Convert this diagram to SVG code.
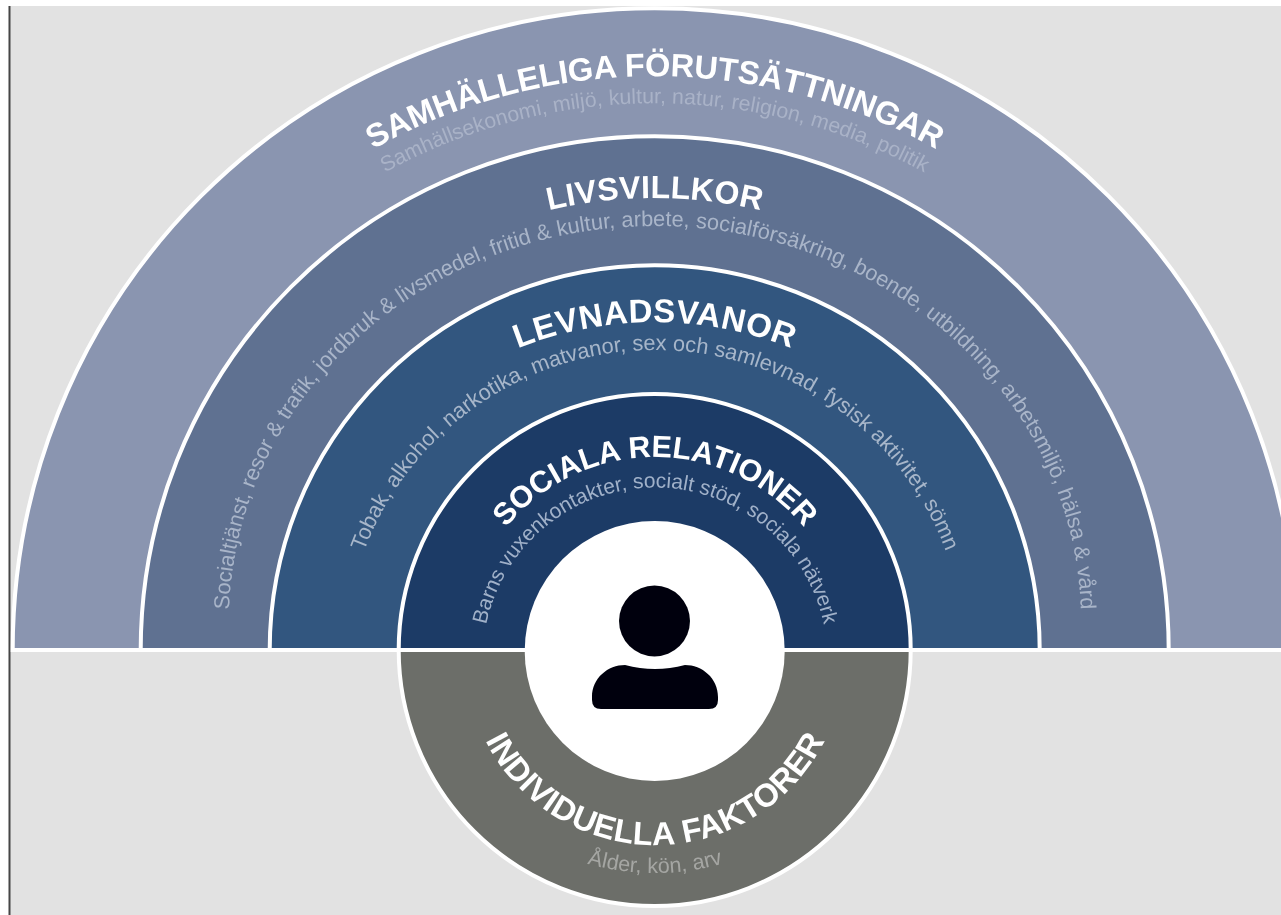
<svg xmlns="http://www.w3.org/2000/svg" width="1281" height="915" viewBox="0 0 1281 915">
<style>
text{font-family:"Liberation Sans",Arial,sans-serif}
.t{fill:#fff;font-weight:bold;text-anchor:middle}
.s{text-anchor:middle}
.r{stroke:#fff;stroke-width:4}
</style>
<defs>
<filter id="soft" filterUnits="userSpaceOnUse" x="0" y="0" width="1281" height="915"><feGaussianBlur stdDeviation="0.6"/></filter>
<path id="p1" d="M74.700 656A580 580 0 0 1 1234.700 656"/>
<path id="p2" d="M94.700 663A560 560 0 0 1 1214.700 663"/>
<path id="p3" d="M354.700 309.300A460 460 0 0 1 954.700 309.300"/>
<path id="p4" d="M229 621A426 395 0 0 1 1081 621"/>
<path id="p5" d="M282.700 694A372 372 0 0 1 1026.700 694"/>
<path id="p6" d="M344 661A311 311 0 0 1 966 661"/>
<path id="p7" d="M462 650A193 193 0 0 1 848 650"/>
<path id="p8" d="M482.500 660A172.500 172.500 0 0 1 827.500 660"/>
<path id="p9" d="M465 655A190 190 0 0 0 845 655"/>
<path id="p10" d="M405 623A250 250 0 0 0 905 623"/>
</defs>
<rect width="1281" height="915" fill="#fff"/>
<g filter="url(#soft)">
<rect x="10" y="6" width="1271" height="909" fill="#e2e2e2"/>
<rect x="8.500" y="6" width="2" height="909" fill="#444"/>
<g id="samhalleliga">
<path class="r" fill="#8a95b0" d="M12.700 650A642 642 0 0 1 1296.700 650Z"/>
<text class="t" font-size="32.500" letter-spacing="-.1"><textPath href="#p1" startOffset="50%">SAMHÄLLELIGA FÖRUTSÄTTNINGAR</textPath></text>
<text class="s" font-size="21.300" fill="#a9b2c7"><textPath href="#p2" startOffset="50%">Samhällsekonomi, miljö, kultur, natur, religion, media, politik</textPath></text>
</g>
<g id="livsvillkor">
<path class="r" fill="#5f7191" d="M140.700 650A514 514 0 0 1 1168.700 650Z"/>
<text class="t" font-size="32" letter-spacing=".2"><textPath href="#p3" startOffset="50%">LIVSVILLKOR</textPath></text>
<text class="s" font-size="21.800" fill="#a9b5c9"><textPath href="#p4" startOffset="50%">Socialtjänst, resor &amp; trafik, jordbruk &amp; livsmedel, fritid &amp; kultur, arbete, socialförsäkring, boende, utbildning, arbetsmiljö, hälsa &amp; vård</textPath></text>
</g>
<g id="levnadsvanor">
<path class="r" fill="#33577f" d="M269.700 650A385 385 0 0 1 1039.700 650Z"/>
<text class="t" font-size="33" letter-spacing=".5"><textPath href="#p5" startOffset="50%">LEVNADSVANOR</textPath></text>
<text class="s" font-size="21.800" fill="#a7b6ca"><textPath href="#p6" startOffset="50%">Tobak, alkohol, narkotika, matvanor, sex och samlevnad, fysisk aktivitet, sömn</textPath></text>
</g>
<g id="sociala">
<path class="r" fill="#1d3b66" d="M398.700 650A256 256 0 0 1 910.700 650Z"/>
<text class="t" font-size="30.500"><textPath href="#p7" startOffset="50%">SOCIALA RELATIONER</textPath></text>
<text class="s" font-size="21" fill="#a0b1c9"><textPath href="#p8" startOffset="50%">Barns vuxenkontakter, socialt stöd, sociala nätverk</textPath></text>
</g>
<g id="individuella">
<path class="r" fill="#6c6e69" d="M398.700 650A256 256 0 0 0 910.700 650Z"/>
<text class="t" font-size="32.500" letter-spacing=".3"><textPath href="#p9" startOffset="50%">INDIVIDUELLA FAKTORER</textPath></text>
<text class="s" font-size="21.500" fill="#a5a6a3"><textPath href="#p10" startOffset="50%">Ålder, kön, arv</textPath></text>
</g>
<g id="person">
<circle cx="654.700" cy="651" r="130" fill="#fff"/>
<circle cx="654.500" cy="621" r="35.500" fill="#03040f"/>
<path fill="#03040f" d="M592 697C592 678 608 665 625 665Q640 669 655 669Q670 669 685 665C702 665 718 678 718 697V700Q718 709 709 709H601Q592 709 592 700Z"/>
</g>
</g>
</svg>
